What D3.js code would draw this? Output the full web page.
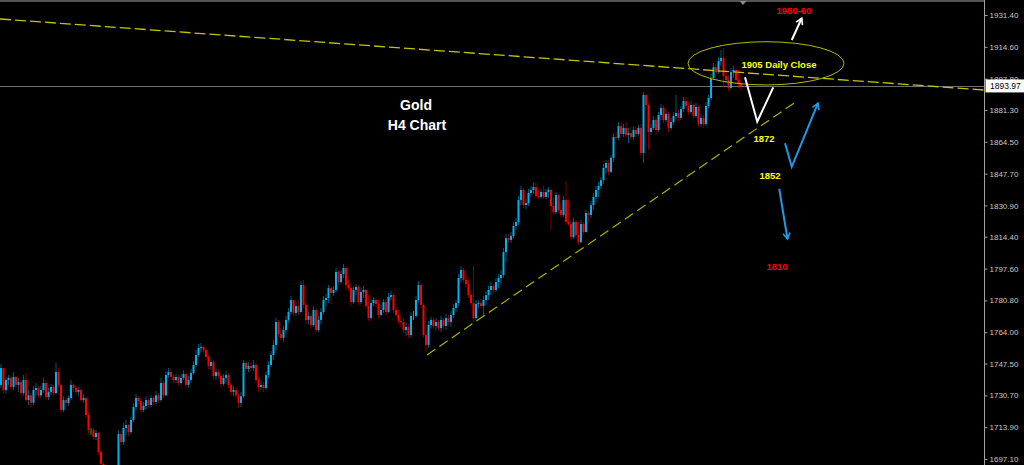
<!DOCTYPE html>
<meta charset="utf-8">
<style>
  body { margin: 0; background: #000; }
  svg { display: block; }
  .axis text { font: 8px "Liberation Sans", Arial, sans-serif; fill: #c8c8c8; }
  .axis line { stroke: #a0a0a0; }
  .note { font-family: "Liberation Sans", Arial, sans-serif; font-weight: bold; text-anchor: middle; }
</style>
<svg width="1024" height="465"></svg>
<script src="https://cdn.jsdelivr.net/npm/d3@7"></script>
<script>

// Gold H4 candles (open = previous close)
var firstOpen = 1736.2;

var closes = [
  1745.1, 1733.5, 1738.8, 1739.9, 1735.1, 1740.4, 1736.2, 1737.7, 1731.9, 1738.8,
  1728.2, 1730.7, 1726.7, 1733.5, 1734.6, 1730.7, 1733.5, 1737.2, 1729.8, 1732.5,
  1735.1, 1731.9, 1743.0, 1736.2, 1723.0, 1728.2, 1726.7, 1729.3, 1736.2, 1734.6,
  1732.5, 1733.5, 1728.2, 1729.3, 1720.3, 1712.4, 1712.4, 1708.7, 1710.8, 1700.8,
  1694.5, 1687.1, 1690.2, 1681.8, 1683.9, 1680.7, 1691.3, 1710.3, 1706.1, 1713.5,
  1715.0, 1711.3, 1717.7, 1724.5, 1729.3, 1727.7, 1723.0, 1725.1, 1728.2, 1725.6,
  1729.3, 1727.2, 1730.7, 1728.2, 1737.2, 1730.7, 1741.4, 1743.0, 1740.4, 1738.8,
  1740.4, 1737.2, 1739.9, 1741.9, 1736.2, 1738.8, 1742.5, 1746.7, 1752.0, 1755.7,
  1756.2, 1754.6, 1750.9, 1746.2, 1748.3, 1740.9, 1743.0, 1740.9, 1736.7, 1739.9,
  1741.4, 1736.2, 1732.5, 1733.5, 1730.7, 1726.7, 1730.2, 1747.8, 1744.6, 1746.2,
  1745.1, 1746.7, 1738.8, 1735.1, 1736.2, 1734.6, 1741.4, 1746.7, 1752.0, 1757.3,
  1769.4, 1763.1, 1761.0, 1765.2, 1770.5, 1774.7, 1781.0, 1774.2, 1777.8, 1774.7,
  1788.9, 1778.4, 1770.5, 1772.6, 1767.8, 1775.7, 1765.2, 1770.5, 1774.7, 1781.0,
  1782.1, 1787.3, 1784.7, 1786.3, 1795.8, 1790.5, 1794.7, 1797.9, 1788.9, 1787.3,
  1779.9, 1786.3, 1787.9, 1779.9, 1785.2, 1786.3, 1777.8, 1771.5, 1779.4, 1781.0,
  1778.9, 1773.1, 1775.7, 1779.9, 1774.7, 1782.6, 1783.6, 1775.7, 1773.1, 1769.9,
  1769.4, 1765.2, 1766.8, 1762.5, 1772.6, 1772.6, 1781.0, 1788.9, 1778.4, 1762.5,
  1757.3, 1767.8, 1770.5, 1767.3, 1769.4, 1766.2, 1770.5, 1767.3, 1771.5, 1769.4,
  1773.1, 1776.8, 1779.4, 1792.6, 1796.8, 1791.6, 1789.4, 1783.6, 1779.4, 1771.5,
  1778.9, 1779.4, 1777.8, 1781.0, 1783.6, 1786.3, 1788.4, 1786.3, 1790.5, 1792.6,
  1794.2, 1806.3, 1813.7, 1812.7, 1814.8, 1820.1, 1822.2, 1833.8, 1839.1, 1831.1,
  1832.2, 1837.5, 1839.1, 1840.6, 1835.9, 1835.4, 1838.0, 1835.4, 1838.0, 1839.1,
  1830.6, 1827.4, 1836.4, 1828.5, 1825.9, 1833.8, 1822.2, 1821.1, 1814.2, 1822.2,
  1815.3, 1811.6, 1821.1, 1816.9, 1826.9, 1825.9, 1831.1, 1835.4, 1839.1, 1841.2,
  1844.3, 1850.7, 1853.3, 1848.6, 1856.0, 1867.0, 1866.5, 1872.8, 1868.6, 1871.8,
  1868.1, 1869.1, 1867.0, 1870.7, 1868.6, 1871.8, 1858.6, 1889.2, 1883.9, 1869.7,
  1871.8, 1876.0, 1870.7, 1878.6, 1882.3, 1876.0, 1879.2, 1871.8, 1874.9, 1878.1,
  1879.7, 1877.1, 1881.8, 1886.0, 1883.4, 1880.2, 1883.9, 1878.1, 1882.9, 1873.9,
  1877.1, 1873.9, 1883.4, 1887.6, 1898.2, 1903.9, 1901.3, 1907.1, 1908.7, 1899.2,
  1897.1, 1892.9, 1901.3, 1902.4, 1897.1, 1895.0, 1893.97
];

var highs = [
  1747.2, 1744.1, 1740.4, 1741.4, 1740.9, 1743.0, 1740.9, 1739.9, 1738.8, 1741.4,
  1742.5, 1733.5, 1731.9, 1735.7, 1737.2, 1735.7, 1735.7, 1739.9, 1738.8, 1734.6,
  1736.7, 1736.2, 1747.8, 1745.1, 1736.7, 1730.2, 1730.2, 1730.7, 1738.8, 1737.2,
  1735.7, 1735.1, 1734.6, 1731.4, 1730.2, 1721.9, 1713.5, 1713.5, 1712.4, 1711.3,
  1701.9, 1695.5, 1692.4, 1691.3, 1687.1, 1686.0, 1693.4, 1712.4, 1711.9, 1716.1,
  1717.7, 1715.6, 1719.3, 1726.7, 1731.4, 1730.2, 1729.3, 1727.2, 1730.2, 1729.3,
  1730.7, 1730.2, 1733.0, 1731.9, 1739.9, 1738.8, 1743.5, 1745.1, 1744.6, 1741.9,
  1741.9, 1741.4, 1741.9, 1744.1, 1742.5, 1740.9, 1744.6, 1748.8, 1754.6, 1757.8,
  1758.3, 1757.3, 1755.7, 1752.0, 1750.4, 1749.4, 1745.1, 1744.6, 1741.9, 1741.9,
  1743.5, 1742.5, 1737.2, 1735.7, 1735.1, 1731.9, 1732.5, 1749.4, 1748.8, 1748.3,
  1748.3, 1749.4, 1747.8, 1740.4, 1738.3, 1737.7, 1743.5, 1748.8, 1754.1, 1759.9,
  1771.5, 1770.5, 1766.2, 1767.3, 1772.6, 1776.8, 1783.1, 1781.0, 1779.9, 1781.0,
  1791.0, 1791.6, 1779.4, 1774.7, 1774.2, 1777.8, 1776.8, 1772.6, 1776.8, 1783.1,
  1784.2, 1788.9, 1788.4, 1788.4, 1797.9, 1796.8, 1796.3, 1800.0, 1798.9, 1791.6,
  1790.0, 1787.9, 1789.4, 1788.9, 1787.3, 1788.4, 1786.8, 1783.6, 1781.5, 1782.6,
  1782.1, 1781.0, 1778.4, 1781.5, 1781.5, 1784.7, 1785.7, 1784.7, 1777.3, 1775.7,
  1773.1, 1771.5, 1768.9, 1768.3, 1774.7, 1775.2, 1783.1, 1791.0, 1790.0, 1779.4,
  1763.6, 1769.9, 1772.0, 1771.5, 1771.5, 1770.5, 1772.6, 1771.5, 1773.6, 1773.1,
  1775.2, 1778.9, 1781.0, 1794.7, 1798.9, 1797.9, 1794.2, 1791.6, 1786.3, 1798.9,
  1781.0, 1781.0, 1781.5, 1783.1, 1785.7, 1788.4, 1790.5, 1789.4, 1792.6, 1794.7,
  1796.8, 1808.4, 1815.8, 1815.8, 1816.9, 1822.2, 1824.3, 1835.9, 1841.2, 1840.1,
  1834.3, 1839.6, 1841.2, 1842.8, 1843.3, 1839.1, 1839.6, 1841.2, 1839.6, 1840.6,
  1840.1, 1834.8, 1838.0, 1836.9, 1832.2, 1835.9, 1843.8, 1833.8, 1823.2, 1824.3,
  1823.2, 1822.2, 1823.2, 1822.2, 1828.5, 1828.0, 1833.2, 1837.5, 1841.2, 1843.3,
  1845.9, 1852.8, 1854.9, 1854.9, 1857.5, 1869.1, 1869.7, 1874.9, 1874.9, 1873.9,
  1874.9, 1871.8, 1872.3, 1872.8, 1872.3, 1873.4, 1873.9, 1890.8, 1889.7, 1885.0,
  1873.9, 1878.1, 1877.6, 1880.2, 1884.4, 1883.9, 1881.3, 1880.2, 1877.1, 1880.2,
  1889.2, 1881.3, 1883.4, 1888.1, 1888.1, 1885.5, 1886.0, 1885.0, 1885.0, 1883.9,
  1879.2, 1878.6, 1885.5, 1889.2, 1900.3, 1906.1, 1905.5, 1909.2, 1912.9, 1914.0,
  1902.4, 1899.7, 1903.4, 1904.5, 1903.4, 1902.4, 1898.2
];

var lows = [
  1734.6, 1731.9, 1731.9, 1736.2, 1733.5, 1733.5, 1734.6, 1732.5, 1730.2, 1730.7,
  1727.2, 1725.6, 1724.5, 1725.6, 1730.7, 1729.3, 1729.3, 1731.9, 1728.2, 1728.2,
  1730.7, 1730.2, 1731.4, 1734.6, 1721.4, 1721.9, 1725.1, 1725.1, 1728.2, 1732.5,
  1730.7, 1730.2, 1727.2, 1726.7, 1718.7, 1710.3, 1709.8, 1707.1, 1707.1, 1699.2,
  1691.3, 1685.0, 1683.4, 1678.1, 1676.5, 1675.5, 1678.1, 1689.2, 1704.0, 1704.5,
  1709.8, 1709.2, 1710.3, 1716.6, 1723.0, 1726.1, 1721.4, 1721.9, 1723.5, 1724.0,
  1724.5, 1725.6, 1726.1, 1726.7, 1727.2, 1729.3, 1730.2, 1739.9, 1738.8, 1737.2,
  1737.2, 1735.7, 1736.2, 1738.8, 1734.6, 1734.6, 1737.2, 1741.4, 1745.7, 1751.0,
  1753.6, 1753.1, 1749.4, 1744.6, 1744.1, 1739.3, 1738.8, 1739.3, 1734.6, 1735.7,
  1737.7, 1734.6, 1730.7, 1730.2, 1729.3, 1724.0, 1724.5, 1729.3, 1743.0, 1743.0,
  1743.5, 1743.5, 1737.2, 1732.5, 1733.5, 1732.5, 1733.5, 1739.9, 1745.7, 1749.4,
  1754.6, 1761.5, 1759.4, 1758.8, 1763.1, 1768.9, 1773.1, 1772.6, 1772.6, 1773.1,
  1774.2, 1776.8, 1768.3, 1768.3, 1766.2, 1766.8, 1763.6, 1764.1, 1768.3, 1773.1,
  1777.8, 1779.4, 1778.9, 1783.1, 1785.2, 1788.9, 1789.4, 1792.6, 1786.3, 1785.7,
  1777.8, 1778.9, 1783.6, 1778.4, 1778.9, 1782.1, 1776.3, 1769.9, 1770.5, 1777.8,
  1777.3, 1771.5, 1772.6, 1774.2, 1773.1, 1774.2, 1781.0, 1774.2, 1771.5, 1768.3,
  1766.8, 1763.6, 1762.0, 1761.0, 1761.0, 1770.5, 1771.5, 1779.9, 1776.8, 1761.0,
  1753.6, 1755.7, 1766.2, 1765.7, 1765.2, 1764.7, 1764.1, 1765.7, 1765.2, 1767.8,
  1766.8, 1771.5, 1774.7, 1777.8, 1790.5, 1790.0, 1787.9, 1782.1, 1777.8, 1769.4,
  1770.5, 1776.8, 1776.3, 1772.6, 1778.4, 1781.0, 1783.6, 1784.2, 1785.2, 1787.3,
  1788.9, 1792.6, 1801.1, 1811.1, 1811.1, 1813.2, 1818.0, 1820.6, 1831.1, 1829.6,
  1829.0, 1830.6, 1835.4, 1837.0, 1834.3, 1834.3, 1834.3, 1834.3, 1834.3, 1834.8,
  1818.0, 1825.9, 1826.4, 1826.9, 1824.3, 1824.8, 1820.6, 1820.1, 1812.7, 1813.2,
  1813.7, 1810.0, 1810.6, 1815.3, 1816.4, 1822.2, 1824.3, 1828.5, 1832.7, 1835.4,
  1839.6, 1842.2, 1848.0, 1847.0, 1848.0, 1853.8, 1865.4, 1865.4, 1867.0, 1867.0,
  1866.5, 1863.8, 1865.4, 1865.4, 1867.0, 1867.6, 1857.0, 1853.3, 1882.3, 1860.2,
  1868.1, 1870.7, 1868.1, 1869.7, 1876.0, 1874.4, 1874.9, 1869.7, 1870.7, 1873.4,
  1876.5, 1875.5, 1876.0, 1880.2, 1881.8, 1878.6, 1879.2, 1876.5, 1877.1, 1872.3,
  1872.3, 1871.8, 1872.8, 1882.3, 1886.5, 1897.1, 1899.7, 1900.3, 1904.5, 1893.4,
  1895.5, 1891.3, 1891.8, 1898.2, 1895.5, 1892.9, 1891.3
];

var priceTicks = [1931.40, 1914.60, 1897.80, 1881.30, 1864.50, 1847.70, 1830.90, 1814.40,
                  1797.60, 1780.80, 1764.00, 1747.50, 1730.70, 1713.90, 1697.10];
var lastPrice = 1893.97;

// drawn objects, as [bar index, price]
var resistance = [[-0.4, 1929.3], [393.2, 1891.8]];
var support = [[170.4, 1752.0], [318.4, 1886.0]];
var closeZone = [[274.8, 1917.3], [337.2, 1894.5]];
var whiteV = [[297.6, 1898.5], [302.5, 1875.1], [308.9, 1893.2]];
var whiteUp = [[316.3, 1918.2], [320.3, 1929.7]];
var blueV = [[313.6, 1863.7], [316.3, 1851.3], [326.8, 1884.9]];
var blueDown = [[311.3, 1839.6], [314.6, 1813.2]];

var candles = closes.map(function(c, i) {
    var o = i === 0 ? firstOpen : closes[i - 1];
    return {i: i, o: o, c: c, h: Math.max(highs[i], o, c), l: Math.min(lows[i], o, c)};
});

var svg = d3.select("svg"),
    plotRight = 984;

var x = d3.scaleLinear()
    .domain([0, closes.length - 1])
    .range([1, 741]);

var y = d3.scaleLinear()
    .domain([1697.1, 1931.4])
    .range([459, 15]);

var bull = "#00b2f0", bear = "#ff0000", doji = "#00d000";

svg.append("rect").attr("width", 1024).attr("height", 465).attr("fill", "#000");

svg.append("defs").append("clipPath").attr("id", "plot")
  .append("rect").attr("width", plotRight).attr("height", 465);

var plot = svg.append("g").attr("clip-path", "url(#plot)");

// top border + chart shift marker
plot.append("rect").attr("x", 0).attr("y", 0).attr("width", plotRight).attr("height", 2).attr("fill", "#555");
var sx = x(296.8);
plot.append("path")
    .attr("d", "M" + (sx - 3.5) + ",1L" + (sx + 3.5) + ",1L" + sx + ",5Z")
    .attr("fill", "#8a8a8a");

// bid line
plot.append("line")
    .attr("x1", 0).attr("x2", plotRight)
    .attr("y1", Math.round(y(lastPrice)) + 0.5).attr("y2", Math.round(y(lastPrice)) + 0.5)
    .attr("stroke", "#6e6e6e");

function colorOf(d) { return d.c > d.o ? bull : d.c < d.o ? bear : doji; }

var bars = plot.append("g").selectAll("g")
    .data(candles)
  .enter().append("g");

bars.append("line")
    .attr("x1", function(d) { return x(d.i); })
    .attr("x2", function(d) { return x(d.i); })
    .attr("y1", function(d) { return y(d.h); })
    .attr("y2", function(d) { return y(d.l); })
    .attr("stroke", colorOf)
    .attr("stroke-opacity", function(d) { return d.c === d.o ? 1 : 0.5; })
    .attr("stroke-width", 1);

bars.filter(function(d) { return d.c !== d.o; }).append("rect")
    .attr("x", function(d) { return x(d.i) - 1; })
    .attr("width", 2)
    .attr("y", function(d) { return y(Math.max(d.o, d.c)); })
    .attr("height", function(d) { return Math.max(1, Math.abs(y(d.o) - y(d.c))); })
    .attr("fill", colorOf);

var line = d3.line()
    .x(function(d) { return x(d[0]); })
    .y(function(d) { return y(d[1]); });

plot.append("path").attr("d", line(resistance))
    .attr("fill", "none").attr("stroke", "#c4c400").attr("stroke-width", 1.3).attr("stroke-dasharray", "11,4");

plot.append("path").attr("d", line(support))
    .attr("fill", "none").attr("stroke", "#b0b000").attr("stroke-width", 1.2).attr("stroke-dasharray", "10,5");

plot.append("ellipse")
    .attr("cx", (x(closeZone[0][0]) + x(closeZone[1][0])) / 2)
    .attr("cy", (y(closeZone[0][1]) + y(closeZone[1][1])) / 2)
    .attr("rx", (x(closeZone[1][0]) - x(closeZone[0][0])) / 2)
    .attr("ry", (y(closeZone[1][1]) - y(closeZone[0][1])) / 2)
    .attr("fill", "none").attr("stroke", "#b8b800").attr("stroke-width", 1);

// arrow heads
var defs = svg.select("defs");
[["headWhite", "#fff"], ["headBlue", "#1e9be6"]].forEach(function(m) {
    defs.append("marker")
        .attr("id", m[0])
        .attr("viewBox", "-8 -5 10 10")
        .attr("markerUnits", "userSpaceOnUse")
        .attr("markerWidth", 10).attr("markerHeight", 10)
        .attr("refX", 0).attr("refY", 0)
        .attr("orient", "auto")
      .append("path")
        .attr("d", "M-6,-3.5L0,0L-6,3.5")
        .attr("fill", "none").attr("stroke", m[1]).attr("stroke-width", 1.6);
});

plot.append("path").attr("d", line(whiteV))
    .attr("fill", "none").attr("stroke", "#fff").attr("stroke-width", 2);
plot.append("path").attr("d", line(whiteUp))
    .attr("fill", "none").attr("stroke", "#fff").attr("stroke-width", 2).attr("marker-end", "url(#headWhite)");
plot.append("path").attr("d", line(blueV))
    .attr("fill", "none").attr("stroke", "#1e9be6").attr("stroke-width", 2).attr("marker-end", "url(#headBlue)");
plot.append("path").attr("d", line(blueDown))
    .attr("fill", "none").attr("stroke", "#1e9be6").attr("stroke-width", 2).attr("marker-end", "url(#headBlue)");

function note(text, i, p, color, size) {
    plot.append("text").attr("class", "note")
        .attr("x", x(i)).attr("y", y(p)).attr("dy", "0.35em")
        .attr("fill", color).attr("font-size", size)
        .text(text);
}

note("Gold", 166, 1883.9, "#fff", 14);
note("H4 Chart", 166.4, 1873.4, "#fff", 14);
note("1905 Daily Close", 311.2, 1905.4, "#ffff00", 9.5);
note("1950-60", 317.2, 1933.5, "#ff0000", 9.5);
note("1872", 305.2, 1865.9, "#ffff00", 9.5);
note("1852", 307.6, 1846.4, "#ffff00", 9.5);
note("1810", 310.4, 1798.4, "#ff0000", 9.5);

// price scale
svg.append("line")
    .attr("x1", plotRight + 0.5).attr("x2", plotRight + 0.5)
    .attr("y1", 0).attr("y2", 465)
    .attr("stroke", "#a0a0a0");

svg.append("g")
    .attr("class", "axis")
    .attr("transform", "translate(" + (plotRight + 0.5) + ",0)")
    .call(d3.axisRight(y).tickValues(priceTicks).tickSize(3).tickPadding(2).tickFormat(d3.format(".2f")))
    .call(function(g) { g.select(".domain").remove(); });

var ly = y(lastPrice);
svg.append("rect")
    .attr("x", plotRight + 1.5).attr("y", ly - 6.5)
    .attr("width", 1024 - plotRight - 1.5).attr("height", 13)
    .attr("fill", "#fff");
svg.append("text")
    .attr("x", plotRight + 6).attr("y", ly).attr("dy", "0.35em")
    .attr("font-family", "Liberation Sans, Arial, sans-serif").attr("font-size", 8.5)
    .attr("fill", "#000")
    .text(d3.format(".2f")(lastPrice));

</script>
